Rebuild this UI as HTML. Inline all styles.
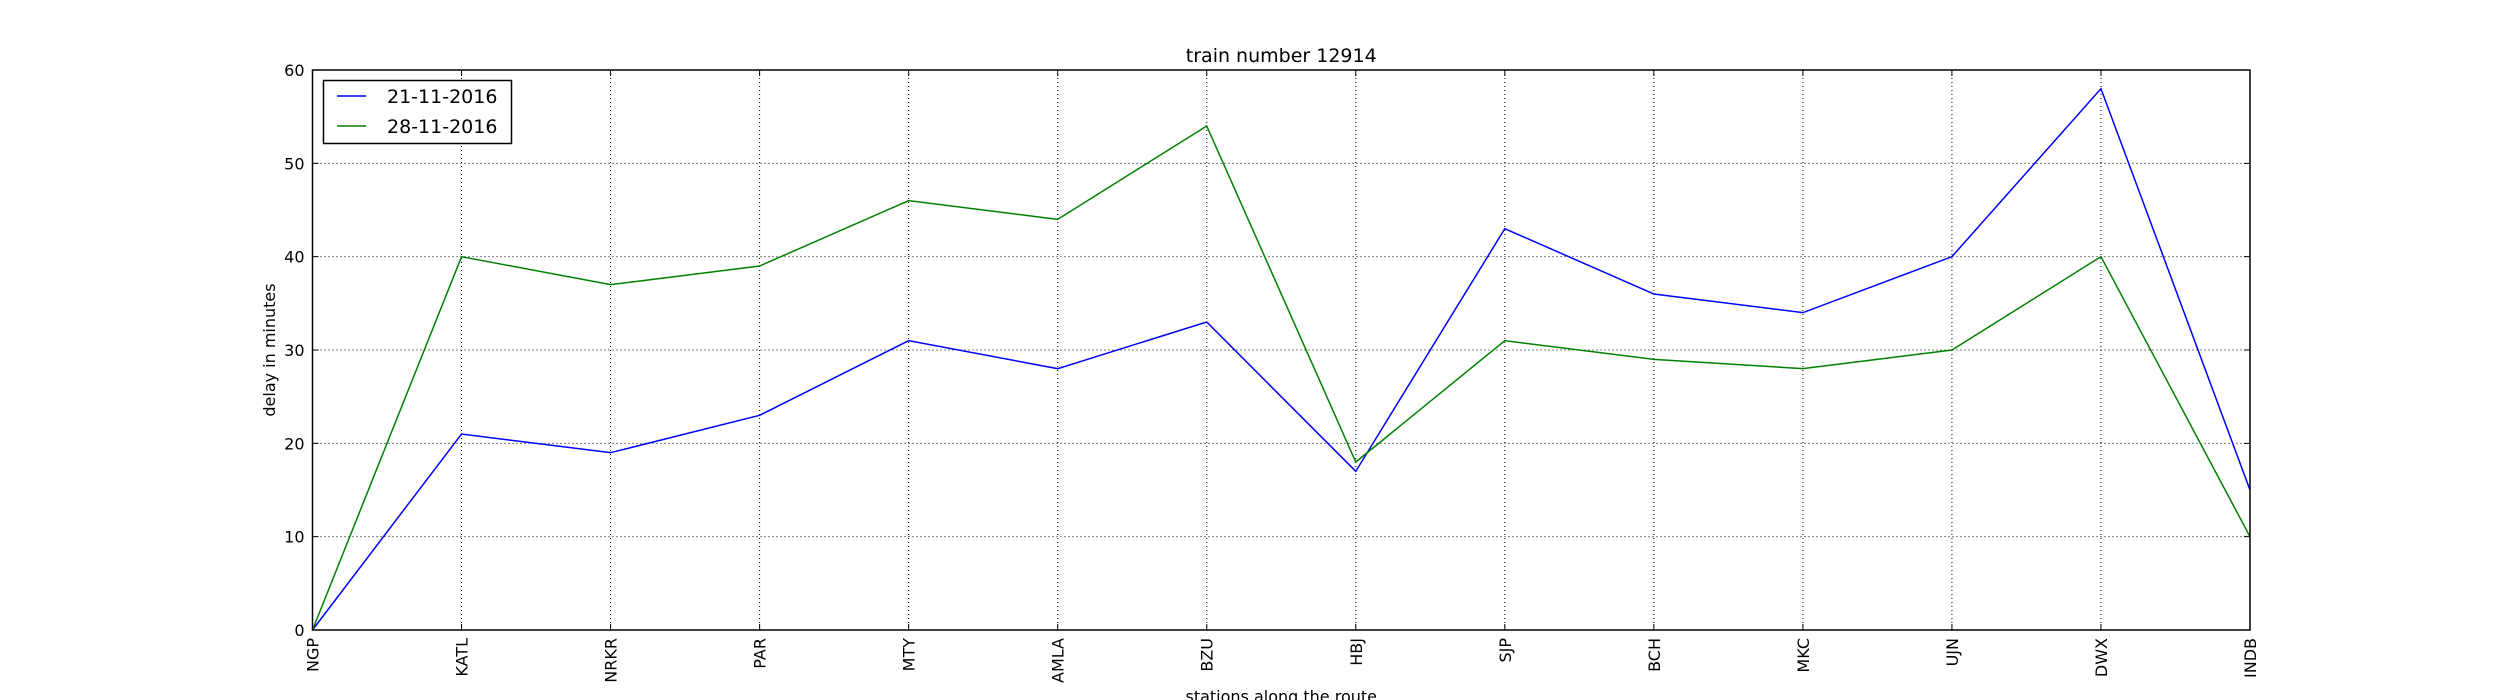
<!DOCTYPE html>
<html><head><meta charset="utf-8"><style>
body{margin:0;background:#fff}
svg{display:block;font-family:"DejaVu Sans","Liberation Sans",sans-serif}
</style></head><body>
<svg id="chart" width="2500" height="700"></svg>
<script>
const stations=["NGP","KATL","NRKR","PAR","MTY","AMLA","BZU","HBJ","SJP","BCH","MKC","UJN","DWX","INDB"];
const delay21=[0,21,19,23,31,28,33,17,43,36,34,40,58,15];
const delay28=[0,40,37,39,46,44,54,18,31,29,28,30,40,10];
const yTicks=[0,10,20,30,40,50,60];
const seriesNames=["21-11-2016","28-11-2016"];
const NS="http://www.w3.org/2000/svg";
const svg=document.getElementById('chart');
const L=312.5,R=2250,T=70,B=630;
const xs=i=>L+(R-L)*i/(stations.length-1);
const ys=v=>B-(B-T)*v/60;
function mk(tag,attrs,parent){const e=document.createElementNS(NS,tag);for(const k in attrs)e.setAttribute(k,attrs[k]);(parent||svg).appendChild(e);return e;}
// grid
yTicks.forEach(v=>{
 const g=mk('line',{x1:L,x2:R,y1:ys(v),y2:ys(v),stroke:'#000','stroke-width':1,'stroke-dasharray':'1,3'});
 
 
 mk('line',{x1:L,x2:L+6,y1:ys(v),y2:ys(v),stroke:'#000'});
 mk('line',{x1:R-6,x2:R,y1:ys(v),y2:ys(v),stroke:'#000'});
 const t=mk('text',{x:L-8,y:ys(v)+6,'text-anchor':'end','font-size':16});
 t.textContent=v;
 
 
});
stations.forEach((s,i)=>{
 const g=mk('line',{x1:xs(i),x2:xs(i),y1:T,y2:B,stroke:'#000','stroke-width':1,'stroke-dasharray':'1,3'});
 
 
 mk('line',{x1:xs(i),x2:xs(i),y1:B-6,y2:B,stroke:'#000'});
 mk('line',{x1:xs(i),x2:xs(i),y1:T,y2:T+6,stroke:'#000'});
 const t=mk('text',{x:0,y:0,'text-anchor':'end','font-size':16,transform:`translate(${xs(i)+6},${B+8}) rotate(-90)`});
 t.textContent=s;
 
 
});
function line(data,color,name){
 const p=mk('polyline',{points:data.map((v,i)=>xs(i)+','+ys(v)).join(' '),fill:'none',stroke:color,'stroke-width':1.5});
 
 
}
line(delay21,'#0000ff','series-21-11-2016');
line(delay28,'#008000','series-28-11-2016');
const fr=mk('rect',{x:L,y:T,width:R-L,height:B-T,fill:'none',stroke:'#000','stroke-width':1.5});


const title=mk('text',{x:(L+R)/2,y:62,'text-anchor':'middle','font-size':19});
title.textContent='train number 12914';


const yl=mk('text',{x:0,y:0,'text-anchor':'middle','font-size':16,transform:`translate(275,${(T+B)/2}) rotate(-90)`});
yl.textContent='delay in minutes';


const xl=mk('text',{x:(L+R)/2,y:702,'text-anchor':'middle','font-size':16});
xl.textContent='stations along the route';


// legend
const lg=mk('g',{});


mk('rect',{x:323.5,y:80.5,width:188,height:63,fill:'#fff',stroke:'#000','stroke-width':1.5},lg);
[['#0000ff',0],['#008000',1]].forEach(([c,i])=>{
 const y=96+i*30;
 mk('line',{x1:337,x2:366,y1:y,y2:y,stroke:c,'stroke-width':1.5},lg);
 const t=mk('text',{x:387,y:y+7,'font-size':19},lg);
 t.textContent=seriesNames[i];
 
 
});
</script>
</body></html>
